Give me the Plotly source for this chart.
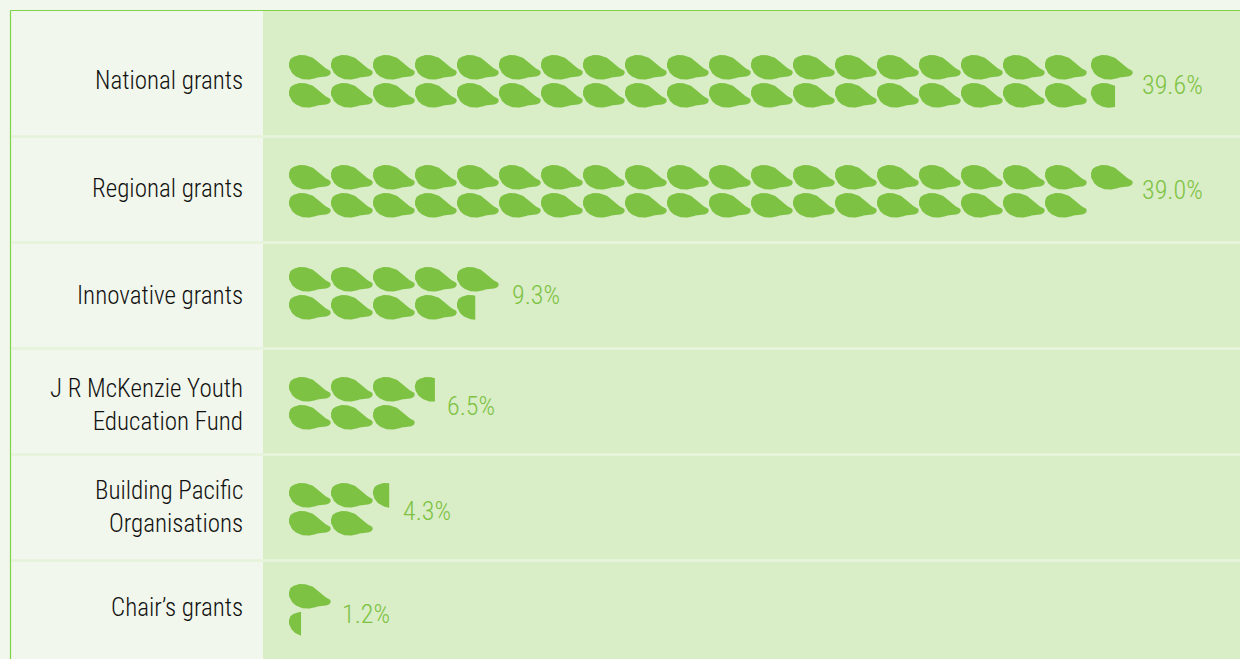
import numpy as np
import plotly.graph_objects as go

categories = ["National grants", "Regional grants", "Innovative grants",
              "J R McKenzie Youth<br>Education Fund", "Building Pacific<br>Organisations", "Chair’s grants"]
value_labels = ["39.6%", "39.0%", "9.3%", "6.5%", "4.3%", "1.2%"]
leaf_counts = [39.58, 39.0, 9.44, 6.48, 4.39, 1.29]

# layout constants (pixels)
W, H = 1240, 659
X0, PITCH, LEAF_W, LEAF_H, ROW_GAP = 289, 42, 41.5, 24.3, 28
LAST_COL_SHIFT = 4
ROW_TOP = [55, 165, 267, 377, 483, 584]
LABEL_Y = [80, 188, 295, 404.5, 506.5, 607]
VALUE_X = [1140, 1140, 510, 445, 401, 340]
VALUE_Y = [85, 190, 295, 405.5, 510.5, 614]
SEPS = [136.5, 242.5, 348.5, 454.5, 560.5]
PAGE, PANEL, SEP_L, SEP_R, GREEN, BORDER = "#F1F7EC", "#D9EDC7", "#E6F3DB", "#E9F4DF", "#7DC242", "#7ED348"
FONT = "Roboto Condensed"

outline = np.array([(10,40),(18,24),(46,15),(78,21),(100,37),(116,52),(130,58),(137,64),(136,73),(126,79),
                    (104,81),(78,88),(52,88),(26,76),(12,56)], float)
outline = (outline - [10, 15]) / [127, 73]

def smooth(p, n=10):
    out = []
    m = len(p)
    for i in range(m):
        a, b, c, d = p[i-1], p[i], p[(i+1) % m], p[(i+2) % m]
        for t in np.linspace(0, 1, n, endpoint=False):
            out.append(0.5*((2*b)+(-a+c)*t+(2*a-5*b+4*c-d)*t**2+(-a+3*b-3*c+d)*t**3))
    return np.array(out)

LEAF = smooth(outline)

def clip(poly, f):
    res = []
    for i in range(len(poly)):
        p, q = poly[i], poly[(i+1) % len(poly)]
        if p[0] <= f:
            res.append(p)
        if (p[0] <= f) != (q[0] <= f):
            t = (f-p[0])/(q[0]-p[0])
            res.append(p+t*(q-p))
    return np.array(res)

xs, ys = [], []
for count, top in zip(leaf_counts, ROW_TOP):
    remaining, i = count, 0
    while remaining > 1e-9:
        frac = min(remaining, 1.0)
        poly = LEAF if frac >= 1 else clip(LEAF, frac)
        col, row = i // 2, i % 2
        left = X0 + col*PITCH + (LAST_COL_SHIFT if col == 19 else 0)
        xs += list(left + poly[:, 0]*LEAF_W) + [left + poly[0, 0]*LEAF_W, None]
        ys += list(top + row*ROW_GAP + poly[:, 1]*LEAF_H) + [top + row*ROW_GAP + poly[0, 1]*LEAF_H, None]
        remaining -= frac
        i += 1

fig = go.Figure(go.Scatter(x=xs, y=ys, mode="lines", fill="toself", fillcolor=GREEN,
                           line=dict(width=0, color=GREEN), hoverinfo="skip", showlegend=False))

shapes = [
    dict(type="rect", x0=263, x1=W, y0=11, y1=H, fillcolor=PANEL, line_width=0, layer="below"),
]
for s in SEPS:
    shapes.append(dict(type="line", x0=11, x1=263, y0=s, y1=s, line=dict(color=SEP_L, width=2.5), layer="below"))
    shapes.append(dict(type="line", x0=263, x1=W, y0=s, y1=s, line=dict(color=SEP_R, width=2.5), layer="below"))
shapes.append(dict(type="line", x0=10.5, x1=W, y0=10.5, y1=10.5, line=dict(color=BORDER, width=1.2), layer="below"))
shapes.append(dict(type="line", x0=10.5, x1=10.5, y0=10.5, y1=H, line=dict(color=BORDER, width=1.2), layer="below"))

ann = []
for c, y in zip(categories, LABEL_Y):
    ann.append(dict(x=245, y=y, text=c, xanchor="right", yanchor="middle", align="right", showarrow=False,
                    font=dict(family=FONT, size=25, weight=300, color="#111111")))
for t, x, y in zip(value_labels, VALUE_X, VALUE_Y):
    ann.append(dict(x=x, y=y, text=t, xanchor="left", yanchor="middle", showarrow=False,
                    font=dict(family=FONT, size=26, weight=300, color="#7DC242")))

fig.update_layout(width=W, height=H, margin=dict(l=0, r=0, t=0, b=0), paper_bgcolor=PAGE, plot_bgcolor=PAGE,
                  shapes=shapes, annotations=ann,
                  xaxis=dict(range=[0, W], visible=False, fixedrange=True),
                  yaxis=dict(range=[H, 0], visible=False, fixedrange=True))
fig.write_html("out.html", config={"displayModeBar": False},
               post_script="document.body.style.margin='0';document.body.style.overflow='hidden';")
